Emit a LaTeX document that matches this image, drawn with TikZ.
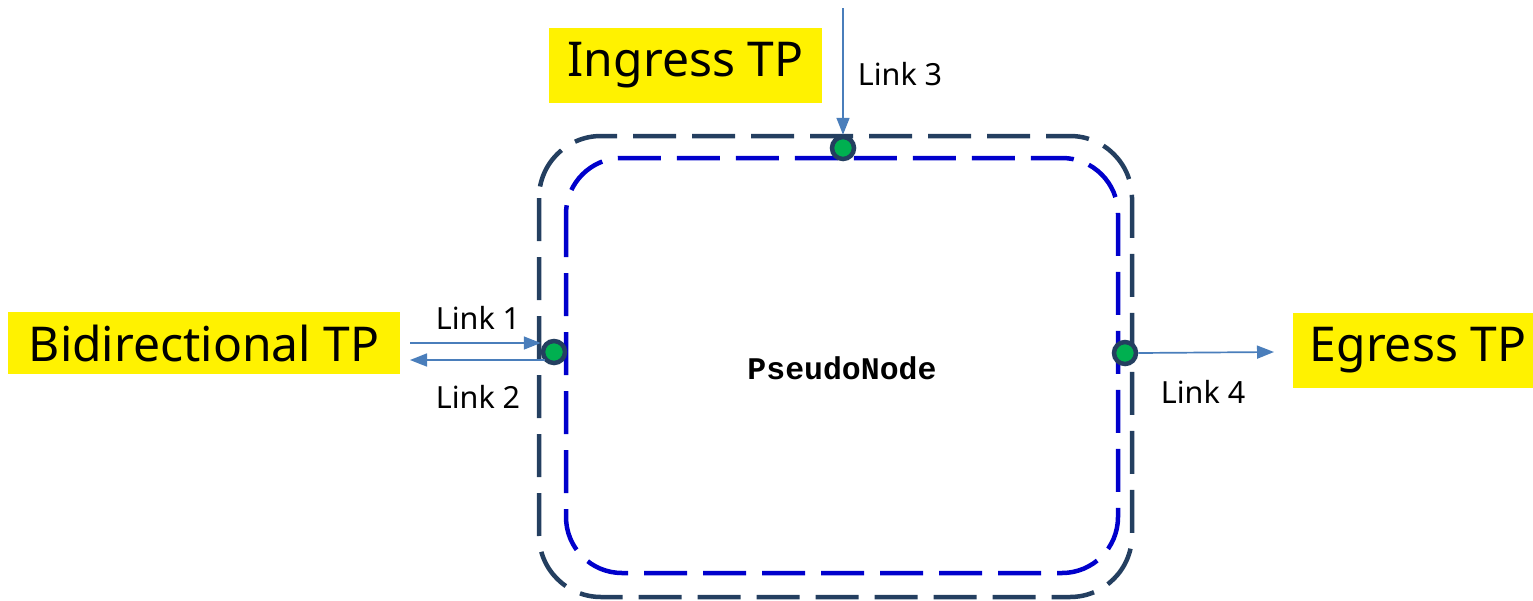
\documentclass[tikz,border=0pt]{standalone}
\usepackage{fontspec}
\setmainfont{Noto Sans}
\setmonofont{Liberation Mono}
\usetikzlibrary{arrows.meta}
\definecolor{navy}{HTML}{243F60}
\definecolor{innerblue}{HTML}{0000CC}
\definecolor{linkblue}{HTML}{4A7EBB}
\definecolor{tpgreen}{HTML}{00B050}
\tikzset{
  tplabel/.style={fill=yellow, inner xsep=19pt, inner ysep=15pt, font=\fontsize{48}{52}\selectfont, text=black},
  linklabel/.style={font=\fontsize{30.5}{33}\selectfont, text=black},
  dot/.style={circle, fill=tpgreen, draw=navy, line width=4.5pt, minimum size=22pt, inner sep=0pt},
  link/.style={linkblue, line width=1.7pt, -{Triangle[length=17pt,width=13pt]}},
  outerbox/.style={navy, line width=4.5pt, dash pattern=on 43pt off 16pt, rounded corners=62pt},
  innerbox/.style={innerblue, line width=4.5pt, dash pattern=on 43pt off 16pt, rounded corners=56pt},
}
\begin{document}
\begin{tikzpicture}[x=1pt,y=-1pt]
\useasboundingbox (0,0) rectangle (1533,600);
\draw[outerbox] (539,136) rectangle (1132,597);
\draw[innerbox] (566,158) rectangle (1118,573);
\node[font=\ttfamily\bfseries\fontsize{31.5}{34}\selectfont] (pn) at (842,368) {PseudoNode};
\node[dot] (d1) at (554,352) {};
\node[dot] (d3) at (843,148) {};
\node[dot] (d4) at (1125,353) {};
\node[tplabel] (ing) at (685.5,65.5) {Ingress TP};
\node[tplabel, inner xsep=21pt, inner ysep=13pt] (bid) at (204,343) {Bidirectional TP};
\node[tplabel, inner xsep=17pt] (egr) at (1418,350.5) {Egress TP};
\coordinate (l1s) at (410,343);
\coordinate (l2e) at (410,360);
\coordinate (l3s) at (843,8);
\coordinate (l4e) at (1274,352);
\draw[link] (l1s) -- (d1.west |- l1s);
\draw[link] (d1.south west |- l2e) -- (l2e);
\draw[link] (l3s) -- (d3.north);
\draw[link] (d4.east) -- (l4e);
\node[linklabel] (t1) at (478,318) {Link 1};
\node[linklabel] (t2) at (478,397) {Link 2};
\node[linklabel] (t3) at (900,74) {Link 3};
\node[linklabel] (t4) at (1203,392) {Link 4};
\end{tikzpicture}
\end{document}
